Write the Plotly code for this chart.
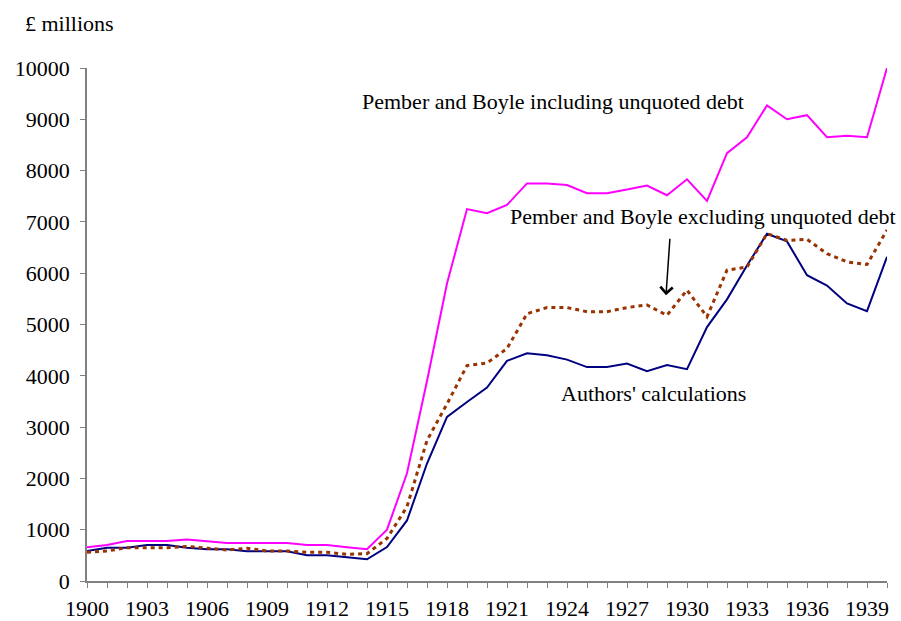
import plotly.graph_objects as go

years = list(range(1900, 1941))

incl_unquoted = [660, 700, 780, 780, 780, 810, 780, 740, 740, 740, 740, 700, 700, 660, 620,
                 1000, 2100, 3900, 5800, 7250, 7170, 7330, 7750, 7750, 7720, 7560, 7560, 7630,
                 7710, 7520, 7830, 7410, 8340, 8650, 9270, 9000, 9080, 8650, 8680, 8650, 10000]

excl_unquoted = [560, 585, 650, 650, 650, 675, 637, 605, 637, 585, 585, 560, 560, 520, 533,
                 830, 1450, 2740, 3450, 4200, 4250, 4530, 5210, 5330, 5330, 5250, 5250, 5330,
                 5380, 5180, 5670, 5150, 6060, 6120, 6770, 6640, 6660, 6380, 6220, 6170, 6840]

authors = [585, 650, 650, 700, 700, 650, 618, 618, 580, 580, 580, 500, 500, 462, 423,
           663, 1180, 2290, 3200, 3490, 3770, 4290, 4440, 4400, 4315, 4170, 4170, 4240,
           4090, 4210, 4130, 4950, 5490, 6150, 6770, 6620, 5960, 5760, 5410, 5260, 6320]

x_tick_vals = list(range(1900, 1940, 3))
label_incl = "Pember and Boyle including unquoted debt"
label_excl = "Pember and Boyle excluding unquoted debt"
label_auth = "Authors' calculations"
y_title = "£ millions"

FONT = "Liberation Serif, Times New Roman, serif"
FS = 22

fig = go.Figure()
fig.add_trace(go.Scatter(x=years, y=incl_unquoted, mode="lines",
                         line=dict(color="#FF00FF", width=2), name=label_incl))
fig.add_trace(go.Scatter(x=years, y=authors, mode="lines",
                         line=dict(color="#000080", width=2), name=label_auth))
fig.add_trace(go.Scatter(x=years, y=excl_unquoted, mode="lines",
                         line=dict(color="#993300", width=3, dash="4px,4px"), name=label_excl))

fig.add_annotation(x=1923.3, y=9351, xref="x", yref="y", text=label_incl, showarrow=False,
                   font=dict(size=FS, color="black", family=FONT))
fig.add_annotation(x=1930.8, y=7109, xref="x", yref="y", text=label_excl, showarrow=False,
                   font=dict(size=FS, color="black", family=FONT))
fig.add_annotation(x=1928.3, y=3659, xref="x", yref="y", text=label_auth, showarrow=False,
                   font=dict(size=FS, color="black", family=FONT))
fig.add_annotation(x=1928.95, y=5570, xref="x", yref="y", ax=1929.15, ay=6700,
                   axref="x", ayref="y", text="", showarrow=True, arrowhead=4,
                   arrowsize=1.6, arrowwidth=1.5, arrowcolor="black")
fig.add_annotation(x=-0.08, y=1.086, xref="paper", yref="paper", text=y_title,
                   showarrow=False, xanchor="left", yanchor="middle",
                   font=dict(size=FS, color="black", family=FONT))

axis_col = "#808080"
fig.update_xaxes(range=[1900, 1940], tickvals=x_tick_vals, ticks="outside", ticklen=5,
                 tickcolor=axis_col, showline=True, linecolor=axis_col, linewidth=1.5,
                 showgrid=False, zeroline=False, automargin=False, tickformat="d",
                 ticklabelstandoff=2,
                 minor=dict(dtick=1, tick0=1900, ticks="outside", ticklen=5,
                            tickcolor=axis_col, showgrid=False),
                 tickfont=dict(size=FS, color="black", family=FONT))
fig.update_yaxes(range=[0, 10000], dtick=1000, ticks="outside", ticklen=5,
                 tickcolor=axis_col, showline=True, linecolor=axis_col, linewidth=1.5,
                 showgrid=False, zeroline=False, ticklabelstandoff=6, automargin=False,
                 tickformat="d",
                 tickfont=dict(size=FS, color="black", family=FONT))

fig.update_layout(width=901, height=621, showlegend=False,
                  margin=dict(l=87, r=14, t=68, b=40),
                  plot_bgcolor="white", paper_bgcolor="white",
                  font=dict(family=FONT, color="black"))

# remove the browser's default 8px body margin so the figure fills the window exactly
fig.write_html("out.html", config={"displayModeBar": False},
               post_script="document.body.style.margin='0';document.body.style.overflow='hidden';")
